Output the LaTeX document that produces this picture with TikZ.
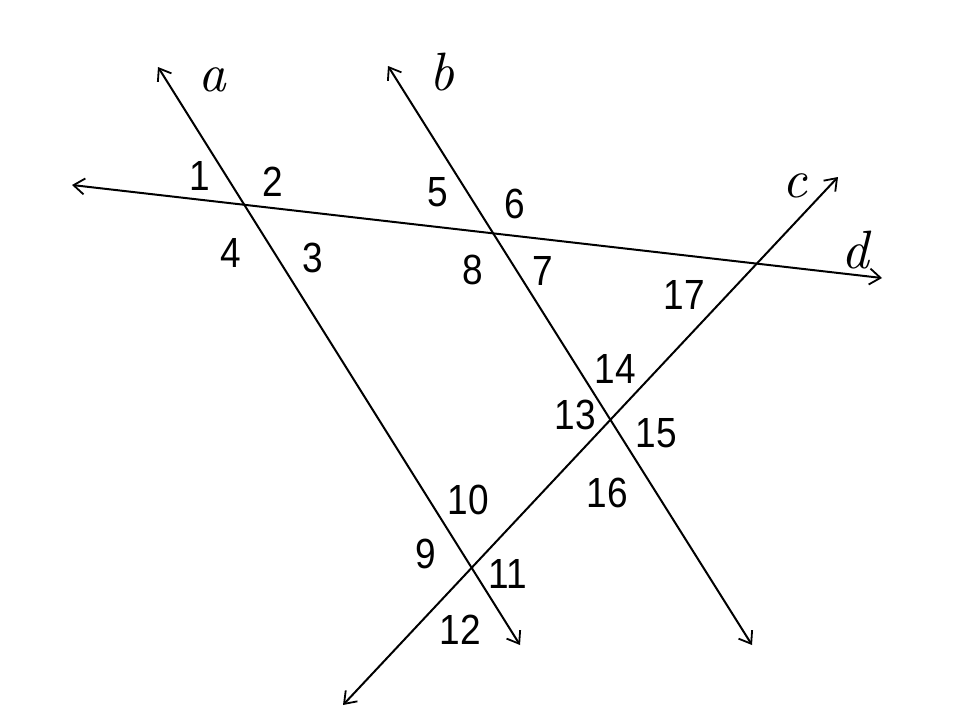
\documentclass[tikz,border=0pt]{standalone}
\usepackage{fontspec}
\setmainfont{Liberation Sans}
\newfontfamily\lmrit{lmroman10-italic.otf}
\usetikzlibrary{arrows.meta}
\newcommand{\tallnum}[1]{\scalebox{1}[1.14]{#1}}
\begin{document}
\begin{tikzpicture}[x=1pt,y=-1pt,
  ln/.style={line width=2pt,{Straight Barb[length=11pt,width=16pt,line width=1.8pt]}-{Straight Barb[length=11pt,width=16pt,line width=1.8pt]}},
  num/.style={font=\fontsize{37}{37}\selectfont,inner sep=0pt},
  let/.style={font=\lmrit\fontsize{54}{54}\selectfont,inner sep=0pt}]
\useasboundingbox (0,0) rectangle (960,720);
\coordinate (a1) at (158,67);
\coordinate (a2) at (520,645);
\coordinate (b1) at (388,66);
\coordinate (b2) at (752,645);
\coordinate (c1) at (838,177);
\coordinate (c2) at (343,705);
\coordinate (d1) at (72,185);
\coordinate (d2) at (882,278);
\draw[ln] (a1) -- (a2);
\draw[ln] (b1) -- (b2);
\draw[ln] (c2) -- (c1);
\draw[ln] (d1) -- (d2);
\node[let] (la) at (212,80) {a};
\node[let] (lb) at (442,72) {b};
\node[let] (lc) at (795,186) {c};
\node[let] (ld) at (855,250) {d};
\node[num] (n1) at (200,176) {\tallnum{1}};
\node[num] (n2) at (273,182) {\tallnum{2}};
\node[num] (n3) at (313,258) {\tallnum{3}};
\node[num] (n4) at (231,253) {\tallnum{4}};
\node[num] (n5) at (438,192) {\tallnum{5}};
\node[num] (n6) at (515,204) {\tallnum{6}};
\node[num] (n7) at (543,271) {\tallnum{7}};
\node[num] (n8) at (473,270) {\tallnum{8}};
\node[num] (n9) at (426,554) {\tallnum{9}};
\node[num] (n10) at (468,500) {\tallnum{10}};
\node[num] (n11) at (508,574) {\tallnum{11}};
\node[num] (n12) at (460,630) {\tallnum{12}};
\node[num] (n13) at (575,415) {\tallnum{13}};
\node[num] (n14) at (615,369) {\tallnum{14}};
\node[num] (n15) at (656,433) {\tallnum{15}};
\node[num] (n16) at (607,493) {\tallnum{16}};
\node[num] (n17) at (684,295) {\tallnum{17}};
\end{tikzpicture}
\end{document}
